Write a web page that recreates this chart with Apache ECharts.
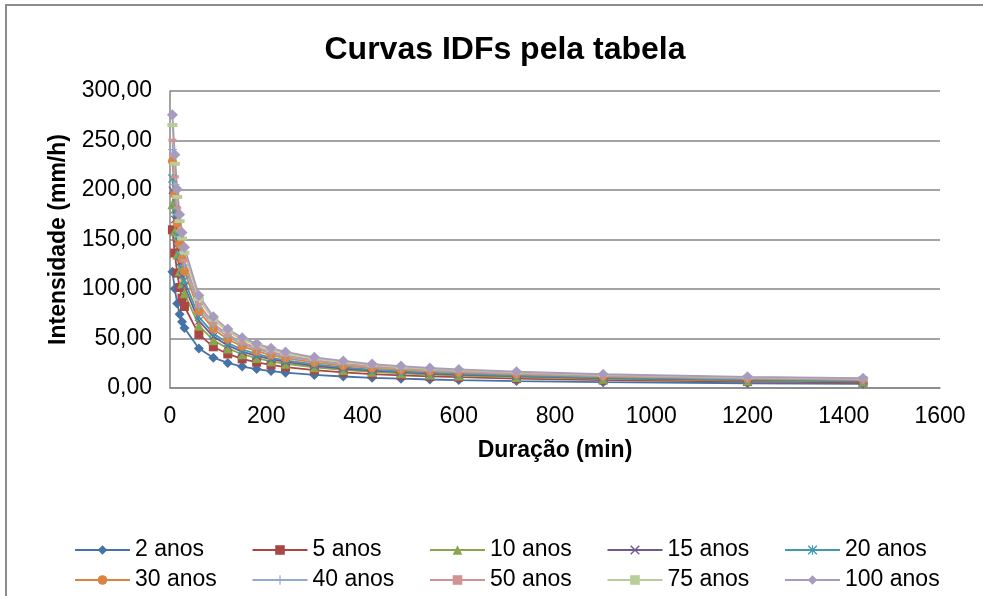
<!DOCTYPE html>
<html>
<head>
<meta charset="utf-8">
<script src="https://cdn.jsdelivr.net/npm/echarts@6/dist/echarts.min.js"></script>
<style>
  html, body { margin: 0; padding: 0; background: #fff; }
  #chart { width: 983px; height: 596px; }
</style>
</head>
<body>
<div id="chart"></div>
<script>
// duração (min)
var duracoes = [5, 10, 15, 20, 25, 30, 60, 90, 120, 150, 180, 210, 240, 300, 360, 420, 480, 540, 600, 720, 900, 1200, 1440];

// intensidade (mm/h) por período de retorno
var anos2   = [117.5, 100.2, 85.4, 74.6, 66.8, 60.5, 39.8, 30.6, 25.3, 21.6, 19.1, 17.1, 15.5, 13.2, 11.6, 10.3, 9.4, 8.6, 8.0, 7.0, 5.9, 4.8, 4.2];
var anos5   = [159.8, 136.3, 116.1, 101.5, 90.8, 82.3, 54.1, 41.6, 34.4, 29.4, 26.0, 23.3, 21.1, 18.0, 15.8, 14.0, 12.8, 11.7, 10.9, 9.5, 8.0, 6.5, 5.7];
var anos10  = [185.7, 158.3, 134.9, 117.9, 105.5, 95.6, 62.9, 48.3, 40.0, 34.1, 30.2, 27.0, 24.5, 20.9, 18.3, 16.3, 14.9, 13.6, 12.6, 11.1, 9.3, 7.6, 6.6];
var anos15  = [199.8, 170.3, 145.2, 126.8, 113.6, 102.9, 67.7, 52.0, 43.0, 36.7, 32.5, 29.1, 26.4, 22.4, 19.7, 17.5, 16.0, 14.6, 13.6, 11.9, 10.0, 8.2, 7.1];
var anos20  = [211.5, 180.4, 153.7, 134.3, 120.2, 108.9, 71.6, 55.1, 45.5, 38.9, 34.4, 30.8, 27.9, 23.8, 20.9, 18.5, 16.9, 15.5, 14.4, 12.6, 10.6, 8.6, 7.6];
var anos30  = [229.1, 195.4, 166.5, 145.5, 130.3, 118.0, 77.6, 59.7, 49.3, 42.1, 37.2, 33.3, 30.2, 25.7, 22.6, 20.1, 18.3, 16.8, 15.6, 13.7, 11.5, 9.4, 8.2];
var anos40  = [240.9, 205.4, 175.1, 152.9, 136.9, 124.0, 81.6, 62.7, 51.9, 44.3, 39.2, 35.1, 31.8, 27.1, 23.8, 21.1, 19.3, 17.6, 16.4, 14.4, 12.1, 9.8, 8.6];
var anos50  = [250.3, 213.4, 181.9, 158.9, 142.3, 128.9, 84.8, 65.2, 53.9, 46.0, 40.7, 36.4, 33.0, 28.1, 24.7, 21.9, 20.0, 18.3, 17.0, 14.9, 12.6, 10.2, 8.9];
var anos75  = [265.6, 226.5, 193.0, 168.6, 151.0, 136.7, 89.9, 69.2, 57.2, 48.8, 43.2, 38.6, 35.0, 29.8, 26.2, 23.3, 21.2, 19.4, 18.1, 15.8, 13.3, 10.8, 9.5];
var anos100 = [276.1, 235.5, 200.7, 175.3, 157.0, 142.2, 93.5, 71.9, 59.5, 50.8, 44.9, 40.2, 36.4, 31.0, 27.3, 24.2, 22.1, 20.2, 18.8, 16.5, 13.9, 11.3, 9.9];

var nomes = ['2 anos', '5 anos', '10 anos', '15 anos', '20 anos', '30 anos', '40 anos', '50 anos', '75 anos', '100 anos'];
var valores = [anos2, anos5, anos10, anos15, anos20, anos30, anos40, anos50, anos75, anos100];

var cores = ['#4572A7', '#AA4643', '#89A54E', '#71588F', '#4198AF', '#DB843D', '#93A9CF', '#D19392', '#B9CD96', '#A99BBD'];
var xPath = 'path://M0,1L1,0L5,4L9,0L10,1L6,5L10,9L9,10L5,6L1,10L0,9L4,5Z';
var simbolos = [
  ['diamond', 10],
  ['rect', 9],
  ['triangle', 10],
  [xPath, 8],
  ['path://M4.4,0h1.2v10h-1.2zM0,1L1,0L5,4L9,0L10,1L6,5L10,9L9,10L5,6L1,10L0,9L4,5Z', 9],
  ['circle', 9],
  ['path://M4.4,0h1.2v10h-1.2zM0,4.4h10v1.2h-10z', 9],
  ['rect', [8, 3]],
  ['rect', [10, 4]],
  ['diamond', 11]
];

var fonte = 'Liberation Sans';

var series = nomes.map(function (nome, i) {
  return {
    name: nome,
    type: 'line',
    data: duracoes.map(function (d, j) { return [d, valores[i][j]]; }),
    symbol: simbolos[i][0],
    symbolSize: simbolos[i][1],
    showAllSymbol: true,
    lineStyle: { color: cores[i], width: 1.8 },
    itemStyle: { color: cores[i] },
    animation: false
  };
});

function legenda(itens, top) {
  return {
    data: itens,
    left: 74,
    top: top,
    padding: 0,
    itemWidth: 55,
    itemHeight: 12,
    itemGap: 16.5,
    textStyle: { fontFamily: fonte, fontSize: 23, color: '#000', width: 100, lineHeight: 26 }
  };
}

var chart = echarts.init(document.getElementById('chart'));
chart.setOption({
  backgroundColor: '#fff',
  animation: false,
  title: {
    text: 'Curvas IDFs pela tabela',
    left: 500,
    top: 29,
    textAlign: 'center',
    textStyle: { fontFamily: fonte, fontSize: 32, fontWeight: 'bold', color: '#000' }
  },
  graphic: [{
    type: 'rect',
    shape: { x: 6, y: 5, width: 990, height: 600 },
    style: { fill: 'none', stroke: '#8c8c8c', lineWidth: 2 },
    silent: true
  }],
  grid: { left: 170, right: 43, top: 91, bottom: 208 },
  legend: [legenda(nomes.slice(0, 5), 537), legenda(nomes.slice(5), 567)],
  xAxis: {
    type: 'value',
    min: 0,
    max: 1600,
    interval: 200,
    name: 'Duração (min)',
    nameLocation: 'middle',
    nameGap: 51,
    nameTextStyle: { fontFamily: fonte, fontSize: 23, fontWeight: 'bold', color: '#000' },
    axisLine: { lineStyle: { color: '#868686', width: 1.5 } },
    axisTick: { show: false },
    splitLine: { show: false },
    axisLabel: {
      fontFamily: fonte, fontSize: 23, color: '#000', margin: 17,
      formatter: function (v) { return String(v); }
    }
  },
  yAxis: {
    type: 'value',
    min: 0,
    max: 300,
    interval: 50,
    name: 'Intensidade (mm/h)',
    nameLocation: 'middle',
    nameGap: 100,
    nameTextStyle: { fontFamily: fonte, fontSize: 23, fontWeight: 'bold', color: '#000' },
    axisLine: { show: true, lineStyle: { color: '#868686', width: 1.5 } },
    axisTick: { show: false },
    splitLine: { lineStyle: { color: '#868686', width: 1.5 } },
    axisLabel: {
      fontFamily: fonte, fontSize: 23, color: '#000', margin: 18,
      formatter: function (v) { return v.toFixed(2).replace('.', ','); }
    }
  },
  series: series
});
</script>
</body>
</html>
